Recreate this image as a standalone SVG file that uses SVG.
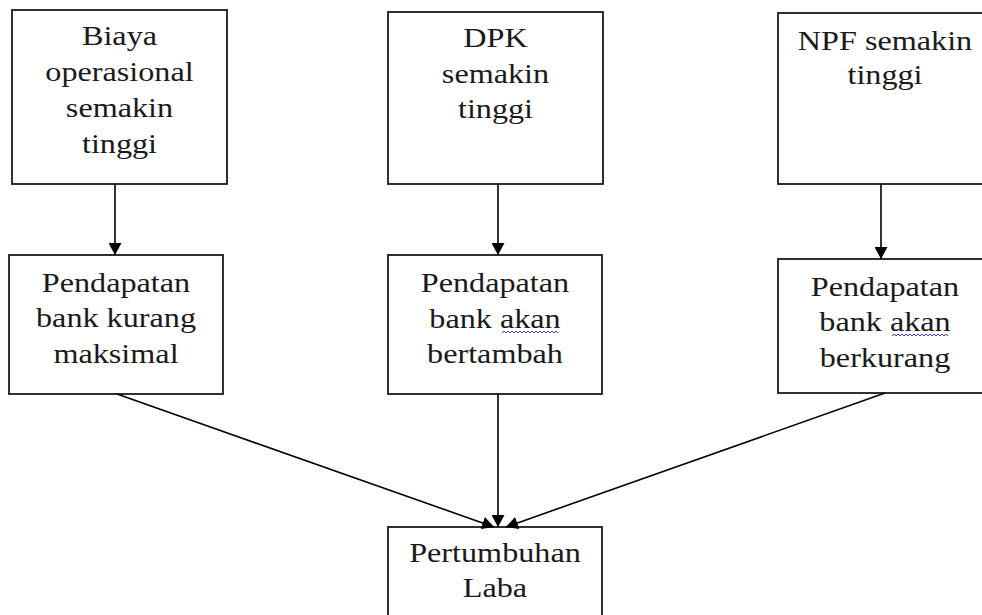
<svg xmlns="http://www.w3.org/2000/svg" width="982" height="615" viewBox="0 0 982 615">
<style>
.box{fill:#fff;stroke:#1a1a1a;stroke-width:1.8}
.t{font-family:"Liberation Serif","Times New Roman",serif;font-size:28px;fill:#1a1a1a;text-anchor:middle}
.c{stroke:#000;stroke-width:1.6;fill:none}
.sq{stroke:#3b3bf0;stroke-width:1;fill:none}
</style>
<defs>
<marker id="ah" markerUnits="userSpaceOnUse" markerWidth="13" markerHeight="13" refX="12" refY="6.5" orient="auto">
<path d="M0,0 L12,6.5 L0,13 z" fill="#000"/>
</marker>
</defs>
<rect width="982" height="615" fill="#fff"/>
<g id="n1">
<rect class="box" x="12" y="10" width="215" height="174"/>
<g transform="translate(119.5 0) scale(1.15 1)">
<text class="t" x="0" y="45">Biaya</text>
<text class="t" x="0" y="81">operasional</text>
<text class="t" x="0" y="117">semakin</text>
<text class="t" x="0" y="153">tinggi</text>
</g>
</g>
<g id="n2">
<rect class="box" x="388" y="12" width="215" height="172"/>
<g transform="translate(495.5 0) scale(1.15 1)">
<text class="t" x="0" y="47">DPK</text>
<text class="t" x="0" y="83">semakin</text>
<text class="t" x="0" y="118">tinggi</text>
</g>
</g>
<g id="n3">
<rect class="box" x="778" y="13" width="215" height="171"/>
<g transform="translate(885 0) scale(1.15 1)">
<text class="t" x="0" y="50">NPF semakin</text>
<text class="t" x="0" y="84">tinggi</text>
</g>
</g>
<g id="n4">
<rect class="box" x="9" y="255" width="214" height="139"/>
<g transform="translate(116 0) scale(1.15 1)">
<text class="t" x="0" y="292">Pendapatan</text>
<text class="t" x="0" y="327">bank kurang</text>
<text class="t" x="0" y="363">maksimal</text>
</g>
</g>
<g id="n5">
<rect class="box" x="388" y="255" width="214" height="139"/>
<g transform="translate(495 0) scale(1.15 1)">
<text class="t" x="0" y="292">Pendapatan</text>
<text class="t" x="0" y="328">bank akan</text>
<text class="t" x="0" y="363">bertambah</text>
</g>
<path class="sq" d="M502,333 l2,-2 l2,2 l2,-2 l2,2 l2,-2 l2,2 l2,-2 l2,2 l2,-2 l2,2 l2,-2 l2,2 l2,-2 l2,2 l2,-2 l2,2 l2,-2 l2,2 l2,-2 l2,2 l2,-2 l2,2 l2,-2 l2,2 l2,-2 l2,2 l2,-2 l2,2"/>
</g>
<g id="n6">
<rect class="box" x="778" y="259" width="215" height="134"/>
<g transform="translate(885 0) scale(1.15 1)">
<text class="t" x="0" y="296">Pendapatan</text>
<text class="t" x="0" y="331">bank akan</text>
<text class="t" x="0" y="367">berkurang</text>
</g>
<path class="sq" d="M892,336 l2,-2 l2,2 l2,-2 l2,2 l2,-2 l2,2 l2,-2 l2,2 l2,-2 l2,2 l2,-2 l2,2 l2,-2 l2,2 l2,-2 l2,2 l2,-2 l2,2 l2,-2 l2,2 l2,-2 l2,2 l2,-2 l2,2 l2,-2 l2,2 l2,-2 l2,2"/>
</g>
<g id="n7">
<rect class="box" x="388" y="527" width="214" height="100"/>
<g transform="translate(495 0) scale(1.15 1)">
<text class="t" x="0" y="562">Pertumbuhan</text>
<text class="t" x="0" y="597">Laba</text>
</g>
</g>
<g id="connectors">
<line class="c" x1="115" y1="184" x2="115" y2="255" marker-end="url(#ah)"/>
<line class="c" x1="498" y1="184" x2="498" y2="255" marker-end="url(#ah)"/>
<line class="c" x1="881" y1="184" x2="881" y2="259" marker-end="url(#ah)"/>
<line class="c" x1="117" y1="394" x2="494" y2="527" marker-end="url(#ah)"/>
<line class="c" x1="498" y1="394" x2="498" y2="527" marker-end="url(#ah)"/>
<line class="c" x1="885" y1="393" x2="506" y2="527" marker-end="url(#ah)"/>
</g>
</svg>
